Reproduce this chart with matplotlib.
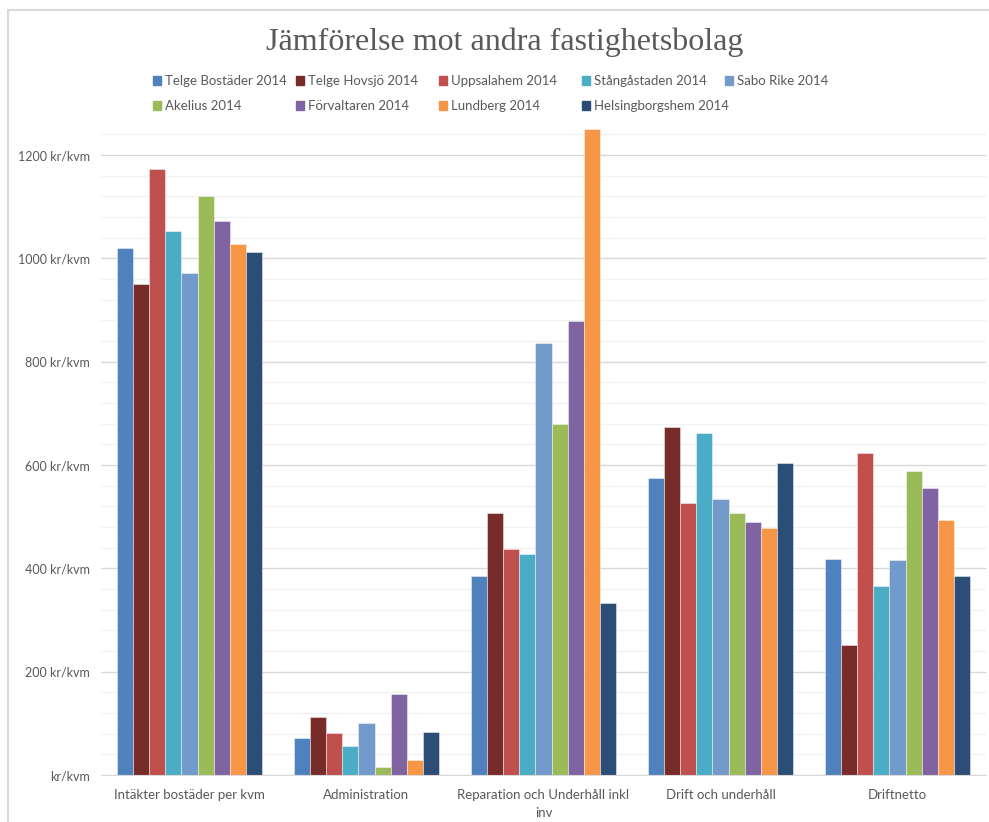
import numpy as np
import matplotlib
matplotlib.use("Agg")
import matplotlib.pyplot as plt
import matplotlib.patches as mpatches
from matplotlib.ticker import MultipleLocator, FuncFormatter

categories = ["Intäkter bostäder per kvm", "Administration",
              "Reparation och Underhåll inkl\ninv", "Drift och underhåll", "Driftnetto"]

series_names = ["Telge Bostäder 2014", "Telge Hovsjö 2014", "Uppsalahem 2014",
                "Stångåstaden 2014", "Sabo Rike 2014", "Akelius 2014",
                "Förvaltaren 2014", "Lundberg 2014", "Helsingborgshem 2014"]

colors = ["#4F81BD", "#772C2A", "#C0504D", "#4BACC6", "#729ACA",
          "#9BBB59", "#8064A2", "#F79646", "#2C4D75"]

telge_bostader = [1021, 71, 385, 575, 418]
telge_hovsjo = [951, 113, 507, 673, 251]
uppsalahem = [1173, 81, 437, 527, 623]
stangastaden = [1052, 56, 428, 662, 366]
sabo_rike = [972, 100, 836, 535, 417]
akelius = [1120, 15, 679, 507, 588]
forvaltaren = [1073, 157, 878, 490, 555]
lundberg = [1027, 29, 1250, 478, 493]
helsingborgshem = [1013, 84, 332, 603, 386]

values = [telge_bostader, telge_hovsjo, uppsalahem, stangastaden, sabo_rike,
          akelius, forvaltaren, lundberg, helsingborgshem]

plt.rcParams['font.family'] = ['Lato', 'DejaVu Sans']
text_gray = "#595959"

fig = plt.figure(figsize=(9.89, 8.22), dpi=100)
ax = fig.add_axes([101 / 989, 47 / 822, 885 / 989, (775 - 123) / 822])

# light chart border (only top and left are visible in the crop)
fig.patches.append(mpatches.Rectangle((8 / 989, -0.1), 1.2, (812 / 822) + 0.1,
                                      transform=fig.transFigure, fill=False,
                                      edgecolor="#D9D9D9", linewidth=1.5))

x = np.arange(len(categories))
n = len(values)
w = 0.0905
for i, (vals, c) in enumerate(zip(values, colors)):
    offs = (i - (n - 1) / 2) * w
    ax.bar(x + offs, vals, width=w, color=c, edgecolor=(1, 1, 1, 0.45),
           linewidth=0.7, zorder=3, label=series_names[i])

ax.set_xlim(-0.5, len(categories) - 0.5)
ax.set_ylim(0, 1262)
ax.yaxis.set_major_locator(MultipleLocator(200))
ax.yaxis.set_minor_locator(MultipleLocator(40))
ax.yaxis.set_major_formatter(FuncFormatter(lambda v, p: f"{int(v)} kr/kvm" if v else "kr/kvm"))
ax.grid(which="major", axis="y", color="#D9D9D9", linewidth=1.0, zorder=0)
ax.grid(which="minor", axis="y", color="#F2F2F2", linewidth=1.0, zorder=0)
ax.tick_params(axis="y", which="both", length=0, pad=8, labelsize=9, labelcolor=text_gray)
ax.tick_params(axis="x", length=0, pad=10, labelsize=9.5, labelcolor=text_gray)
ax.set_xticks(x)
ax.set_xticklabels(categories, linespacing=1.6)
for s in ["top", "right", "left"]:
    ax.spines[s].set_visible(False)
ax.spines["bottom"].set_color("#D9D9D9")
ax.spines["bottom"].set_zorder(4)

fig.text(505 / 989, 1 - 42 / 822, "Jämförelse mot andra fastighetsbolag",
         family="Liberation Serif", fontsize=23, color=text_gray,
         ha="center", va="center")

# legend laid out in evenly spaced columns like the original
col_x = [153, 296, 439, 582, 725]
col_items = [[0, 5], [1, 6], [2, 7], [3, 8], [4]]
for cx, items in zip(col_x, col_items):
    handles = [mpatches.Patch(color=colors[k]) for k in items]
    labels = [series_names[k] for k in items]
    fig.legend(handles, labels, loc="upper left",
               bbox_to_anchor=(cx / 989, 1 - 75 / 822), frameon=False,
               fontsize=9.5, labelcolor=text_gray, handlelength=0.6,
               handleheight=0.6, handletextpad=0.3, labelspacing=1.0,
               borderpad=0, borderaxespad=0)

fig.savefig("out.png", dpi=100)
